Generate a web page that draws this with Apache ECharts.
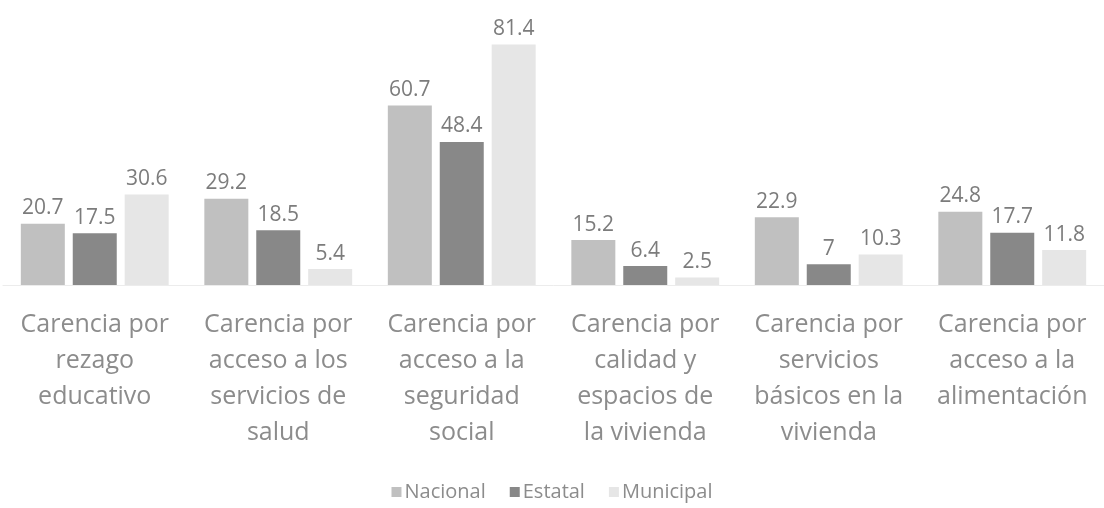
<!DOCTYPE html>
<html><head><meta charset="utf-8">
<script src="https://cdn.jsdelivr.net/npm/echarts@6/dist/echarts.min.js"></script>
<style>html,body{margin:0;padding:0;background:#fff}#c{width:1104px;height:508px}</style>
</head><body><div id="c"></div>
<script>
const categories = [
  "Carencia por\nrezago\neducativo",
  "Carencia por\nacceso a los\nservicios de\nsalud",
  "Carencia por\nacceso a la\nseguridad\nsocial",
  "Carencia por\ncalidad y\nespacios de\nla vivienda",
  "Carencia por\nservicios\nbásicos en la\nvivienda",
  "Carencia por\nacceso a la\nalimentación"
];
const nacional = [20.7, 29.2, 60.7, 15.2, 22.9, 24.8];
const estatal = [17.5, 18.5, 48.4, 6.4, 7, 17.7];
const municipal = [30.6, 5.4, 81.4, 2.5, 10.3, 11.8];
const seriesNames = ["Nacional", "Estatal", "Municipal"];
const colors = ["#c0c0c0", "#888888", "#e6e6e6"];

const font = "'Open Sans', sans-serif";
const chart = echarts.init(document.getElementById('c'));
const mk = (name, data, color) => ({
  name, type: 'bar', data, barWidth: 44, barGap: '18%',
  itemStyle: { color },
  label: { show: true, position: 'top', distance: 5, color: '#7c7c7c', fontSize: 21, fontFamily: font }
});
chart.setOption({
  animation: false,
  color: colors,
  grid: { left: 3, right: 0, top: 19, bottom: 223, containLabel: false },
  legend: {
    bottom: 1, left: 'center', itemWidth: 10, itemHeight: 10, itemGap: 24,
    icon: 'rect',
    textStyle: { color: '#8c8c8c', fontSize: 20, fontFamily: font, padding: [0, 0, 0, -2] },
    data: seriesNames
  },
  xAxis: {
    type: 'category', data: categories,
    axisLine: { show: true, lineStyle: { color: '#ececec' } },
    axisTick: { show: false },
    axisLabel: { interval: 0, margin: 22, color: '#8c8c8c', fontSize: 25, lineHeight: 36, fontFamily: font }
  },
  yAxis: { type: 'value', min: 0, max: 90, show: false, splitLine: { show: false } },
  series: [mk(seriesNames[0], nacional, colors[0]), mk(seriesNames[1], estatal, colors[1]), mk(seriesNames[2], municipal, colors[2])]
});
</script></body></html>
